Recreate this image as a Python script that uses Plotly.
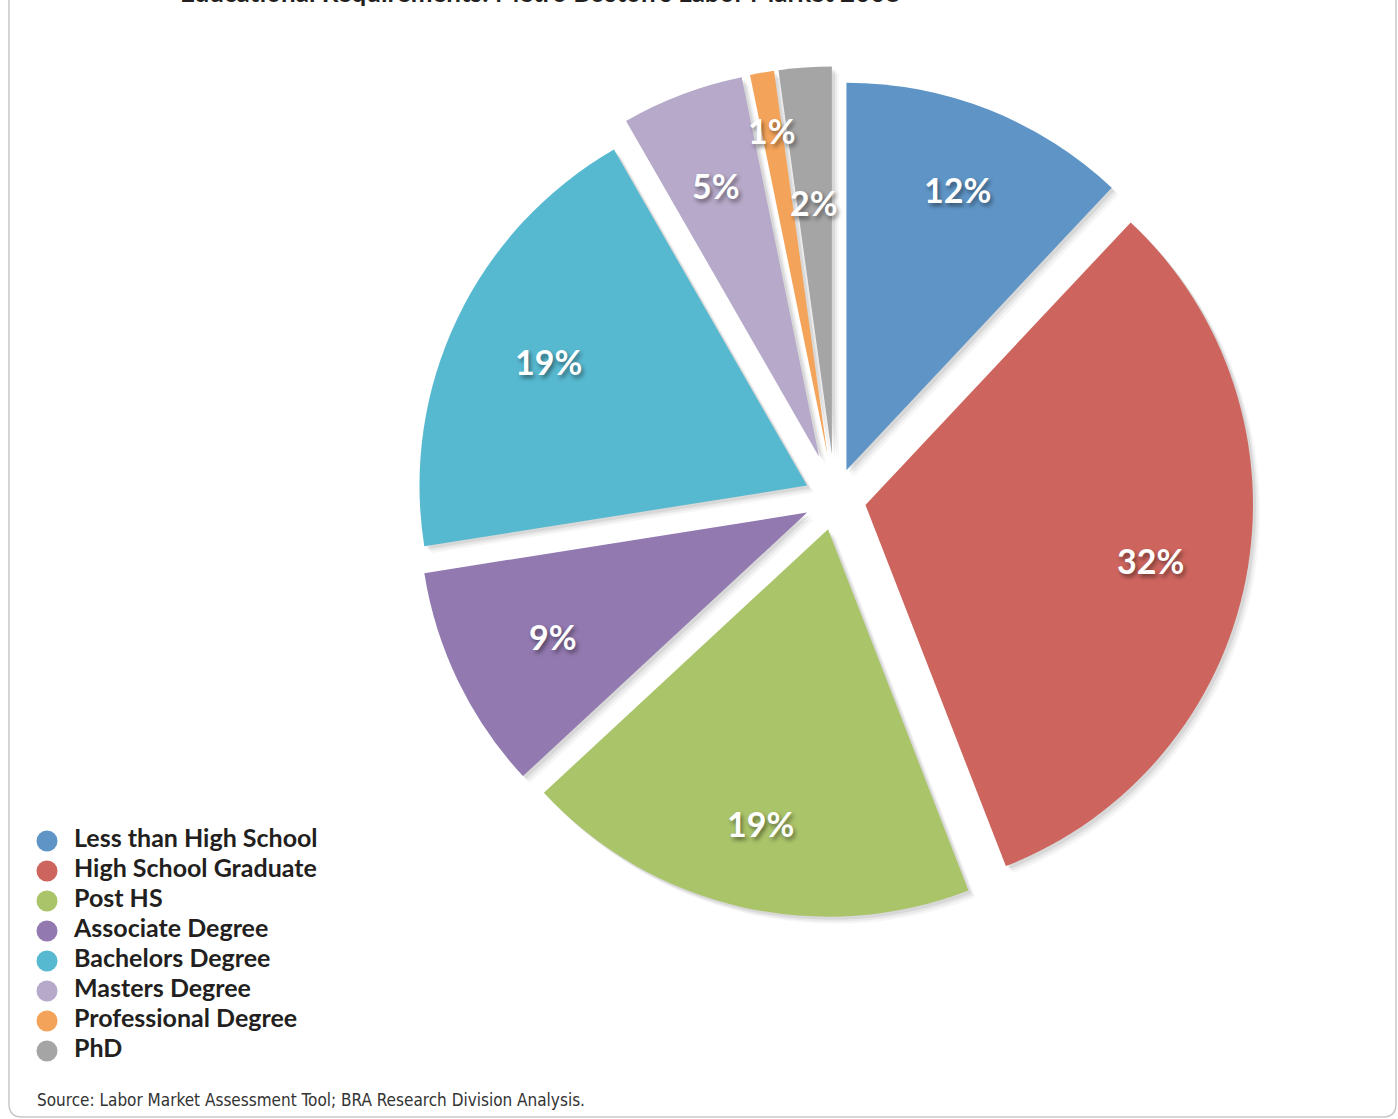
import math
import plotly.graph_objects as go

# Share of jobs by educational requirement
categories = [
    "Less than High School",
    "High School Graduate",
    "Post HS",
    "Associate Degree",
    "Bachelors Degree",
    "Masters Degree",
    "Professional Degree",
    "PhD",
]
shares = [12.0, 32.1, 19.0, 9.4, 19.2, 5.1, 1.0, 2.2]

colors = ["#5f95c6", "#cd655e", "#aac46a", "#9279b0",
          "#57b9d0", "#b6a9c9", "#f4a45a", "#a5a5a5"]
pulls = [0.08, 0.08, 0.08, 0.08, 0.08, 0.116, 0.116, 0.116]
# radial placement of each percentage label, as a fraction of the radius
label_radius = [0.78, 0.75, 0.78, 0.73, 0.74, 0.75, 0.85, 0.65]

W, H = 1398, 1119

# pie domain in pixels (left, right, top, bottom)
PX_L, PX_R, PX_T, PX_B = 402.5, 1267.5, 66.5, 931.5


def pie_domain(dx=0, dy=0):
    return dict(
        x=[(PX_L + dx) / W, (PX_R + dx) / W],
        y=[1 - (PX_B + dy) / H, 1 - (PX_T + dy) / H],
    )


fig = go.Figure()

# soft drop shadow made of a few offset translucent copies
for off, alpha in [(7, 0.035), (5, 0.05), (3, 0.07)]:
    fig.add_trace(go.Pie(
        values=shares,
        labels=categories,
        sort=False,
        direction="clockwise",
        pull=pulls,
        marker=dict(colors=[f"rgba(0,0,0,{alpha})"] * len(shares),
                    line=dict(width=0)),
        textinfo="none",
        hoverinfo="skip",
        showlegend=False,
        domain=pie_domain(off, off),
    ))

fig.add_trace(go.Pie(
    values=shares,
    labels=categories,
    sort=False,
    direction="clockwise",
    pull=pulls,
    marker=dict(colors=colors, line=dict(width=0)),
    textinfo="none",
    showlegend=False,
    domain=pie_domain(),
))

# percentage labels placed on each slice's bisector (same geometry as the pie)
cx, cy = (PX_L + PX_R) / 2, (PX_T + PX_B) / 2
radius = min(PX_R - PX_L, PX_B - PX_T) / 2 / (1 + max(pulls))
total = sum(shares)
label_annotations = []
cum = 0.0
for v, p, f in zip(shares, pulls, label_radius):
    mid = 2 * math.pi * (cum + v / 2) / total
    cum += v
    ux, uy = math.sin(mid), -math.cos(mid)
    px = cx + (p + f) * radius * ux
    py = cy + (p + f) * radius * uy
    label_annotations.append(dict(
        text=f"{round(100 * v / total)}%",
        xref="paper", yref="paper", x=px / W, y=1 - py / H,
        xanchor="center", yanchor="middle", showarrow=False,
        font=dict(family="Lato", size=34, color="white", weight="bold",
                  shadow="2px 3px 4px rgba(0,0,0,0.45)"),
    ))

# legend drawn as a column of dots with labels
idx = list(range(len(categories)))
fig.add_trace(go.Scatter(
    x=[47] * len(categories), y=idx, mode="markers",
    marker=dict(color=colors, size=21, symbol="circle"),
    hoverinfo="skip", showlegend=False,
    xaxis="x", yaxis="y",
))
fig.add_trace(go.Scatter(
    x=[74] * len(categories), y=idx, mode="text",
    text=categories, textposition="middle right",
    textfont=dict(family="Lato", size=25, color="#231f20", weight="bold"),
    hoverinfo="skip", showlegend=False,
    xaxis="x", yaxis="y",
))

LEG_W = 0.3 * W
fig.update_layout(
    width=W, height=H,
    margin=dict(l=0, r=0, t=0, b=0),
    paper_bgcolor="white", plot_bgcolor="white",
    showlegend=False,
    xaxis=dict(domain=[0, 0.3], range=[0, LEG_W], visible=False, fixedrange=True),
    yaxis=dict(domain=[(H - 1066) / H, (H - 826) / H], range=[7.5, -0.5],
               visible=False, fixedrange=True),
    annotations=label_annotations + [
        dict(text="Educational Requirements: Metro Boston's Labor Market 2008",
             xref="paper", yref="paper", x=178 / W, y=1 - 10 / H,
             xanchor="left", yanchor="bottom", showarrow=False,
             font=dict(family="Lato", size=26, color="#231f20", weight="bold")),
        dict(text="Source: Labor Market Assessment Tool; BRA Research Division Analysis.",
             xref="paper", yref="paper", x=35 / W, y=1 - 1100 / H,
             xanchor="left", yanchor="middle", showarrow=False,
             font=dict(family="DejaVu Sans Condensed, DejaVu Sans", size=17,
                       color="#333333")),
    ],
    shapes=[
        # panel frame with rounded lower corners
        dict(type="path", xref="paper", yref="paper",
             path=(f"M {9/W},{1+5/H} L {9/W},{1-1104/H} "
                   f"Q {9/W},{1-1117/H} {22/W},{1-1117/H} "
                   f"L {1383/W},{1-1117/H} "
                   f"Q {1396/W},{1-1117/H} {1396/W},{1-1104/H} "
                   f"L {1396/W},{1+5/H}"),
             line=dict(color="#c8c8c8", width=1.5)),
    ],
)

fig.write_html("out.html")
